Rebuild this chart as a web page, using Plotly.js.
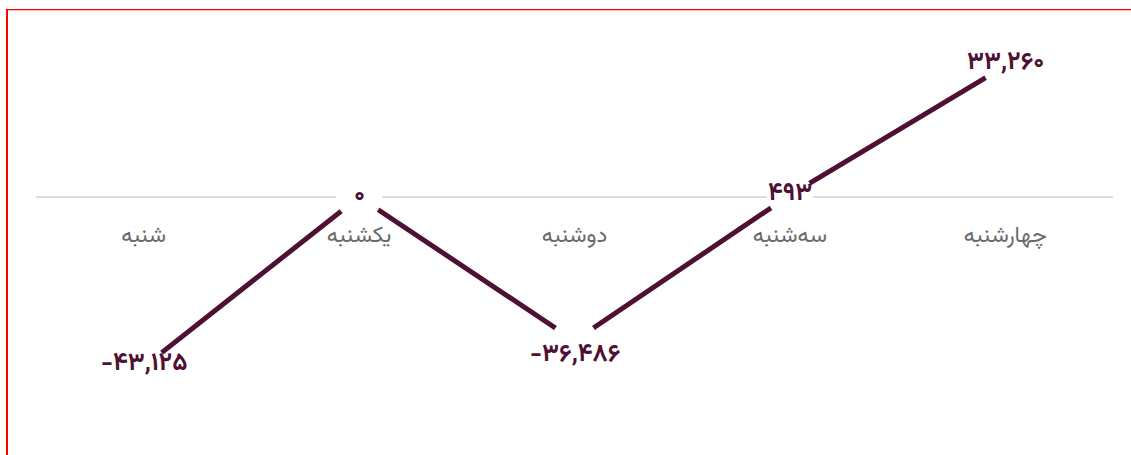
<!DOCTYPE html>
<html>
<head>
<meta charset="utf-8">
<script src="https://cdn.plot.ly/plotly-3.0.1.min.js"></script>
<style>
  html, body { margin: 0; padding: 0; background: #fff; }
  #frame {
    position: absolute; left: 6px; top: 9px; right: 0; bottom: 0;
    border-left: 2px solid #ff0000; border-top: 1px solid #ff0000;
    box-shadow: inset 0 1px 0 #ffb8b8;
  }
  #graph { position: absolute; left: 0; top: 0; width: 1131px; height: 455px; }
</style>
</head>
<body>
<div id="frame"></div>
<div id="graph"></div>
<script>
// روزهای هفته و مقدارها
const days = ['شنبه', 'یکشنبه', 'دوشنبه', 'سه‌شنبه', 'چهارشنبه'];
const values = [-43125, 0, -36486, 493, 33260];

const faDigits = '۰۱۲۳۴۵۶۷۸۹';
function toPersian(n) {
    const s = Math.abs(n).toLocaleString('en-US').replace(/\d/g, d => faDigits[d]);
    return (n < 0 ? '-' : '') + s;
}

const lineColor = '#4e1033';
const fontFam = 'Vazirmatn, "DejaVu Sans", sans-serif';
const yMin = -62960, yMax = 47470;
const zeroPos = (0 - yMin) / (yMax - yMin);

const trace = {
    x: days, y: values,
    type: 'scatter', mode: 'lines+markers',
    line: { color: lineColor, width: 5 },
    // دایره سفید دور هر نقطه تا خط قطع شود
    marker: { color: '#ffffff', size: 46, line: { width: 0 } },
    hoverinfo: 'skip'
};

const labelShift = [3, 1, -14, 2, 3];
const annotations = values.map((v, i) => ({
    x: days[i], y: v,
    text: toPersian(v),
    showarrow: false,
    yshift: labelShift[i],
    font: { family: fontFam, size: 25, color: lineColor, weight: 'bold' }
}));

Plotly.newPlot('graph', [trace], {
    width: 1131, height: 455,
    margin: { l: 36, r: 18, t: 10, b: 10 },
    showlegend: false,
    paper_bgcolor: 'rgba(0,0,0,0)',
    plot_bgcolor: 'rgba(0,0,0,0)',
    xaxis: {
        type: 'category', range: [-0.5, 4.5],
        anchor: 'free', position: zeroPos,
        showgrid: false, showline: false, zeroline: false,
        ticks: '', ticklabelstandoff: 22,
        tickfont: { family: fontFam, size: 22.5, color: '#6b6b6b' },
        fixedrange: true
    },
    yaxis: {
        range: [yMin, yMax],
        showgrid: false, showticklabels: false, showline: false,
        zeroline: true, zerolinecolor: '#dcdcdc', zerolinewidth: 2,
        fixedrange: true
    },
    annotations: annotations
}, { displayModeBar: false, staticPlot: true });
</script>
</body>
</html>
